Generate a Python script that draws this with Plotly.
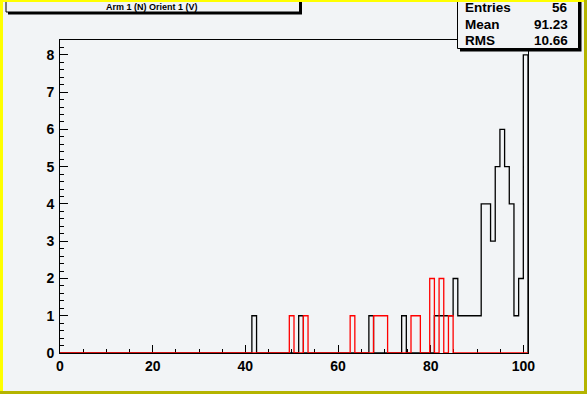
import numpy as np
import plotly.graph_objects as go

# ---------------- data ----------------
n_bins = 100
x_low, x_high = 0.0, 101.0

black_bins = [41, 51, 66, 73, 80, 81, 82, 83, 84, 85, 86, 87, 88, 89,
              90, 91, 92, 93, 94, 95, 96, 97, 98, 99]
black_counts = [1, 1, 1, 1, 1, 1, 1, 1, 2, 1, 1, 1, 1, 1,
                4, 4, 3, 5, 6, 5, 4, 1, 2, 8]

red_bins = [49, 52, 62, 67, 68, 69, 75, 76, 79, 81, 83]
red_counts = [1, 1, 1, 1, 1, 1, 1, 1, 2, 2, 1]

title_text = "Arm 1 (N) Orient 1 (V)"
stats_labels = ["Entries", "Mean", "RMS"]
stats_values = ["56", "91.23", "10.66"]

x_ticks = [0, 20, 40, 60, 80, 100]
y_ticks = [0, 1, 2, 3, 4, 5, 6, 7, 8]

# ---------------- layout geometry ----------------
W, H = 587, 394
ML, MR, MT, MB = 60, 59, 40, 41
PW, PH = W - ML - MR, H - MT - MB
BG = "#f2f4f6"
FONT = "Liberation Sans"


def px_x(px):
    return (px - ML) / PW


def px_y(py):
    return (H - MB - py) / PH


def step_xy(bins, counts):
    full = np.zeros(n_bins)
    full[np.array(bins)] = counts
    edges = np.linspace(x_low, x_high, n_bins + 1)
    xs = np.append(edges, x_high)
    ys = np.append(np.append(full, full[-1]), 0.0)
    return xs, ys


fig = go.Figure()
bx, by = step_xy(black_bins, black_counts)
fig.add_trace(go.Scatter(x=bx, y=by, mode="lines", line_shape="hv",
                         line=dict(color="black", width=1.3),
                         cliponaxis=False, hoverinfo="skip"))
rx, ry = step_xy(red_bins, red_counts)
fig.add_trace(go.Scatter(x=rx, y=ry, mode="lines", line_shape="hv",
                         line=dict(color="#ff0000", width=1.3),
                         cliponaxis=False, hoverinfo="skip"))

shapes = []
annotations = []


def rect(x0, y0, x1, y1, fill, line_color=None, lw=0):
    d = dict(type="rect", xref="paper", yref="paper",
             x0=px_x(x0), x1=px_x(x1), y0=px_y(y1), y1=px_y(y0),
             fillcolor=fill, layer="above")
    if line_color:
        d["line"] = dict(color=line_color, width=lw)
    else:
        d["line"] = dict(width=0)
    shapes.append(d)


# title box
rect(8, -4, 302, 14.5, "black")
rect(6, -4, 299.5, 12, BG, "black", 1)
annotations.append(dict(xref="paper", yref="paper", x=px_x(152), y=px_y(7.3),
                        text=title_text, showarrow=False, xanchor="center",
                        yanchor="middle",
                        font=dict(family=FONT, size=9, color="black", weight="bold")))

# stats box
rect(460, -4, 581.5, 51.5, "black")
rect(457.5, -4, 578.5, 48.5, BG, "black", 1)
row_y = [7.5, 24.3, 40.7]
for lab, val, yy in zip(stats_labels, stats_values, row_y):
    annotations.append(dict(xref="paper", yref="paper", x=px_x(463), y=px_y(yy),
                            text=lab, showarrow=False, xanchor="left", yanchor="middle",
                            font=dict(family=FONT, size=13.5, color="black", weight="bold")))
    annotations.append(dict(xref="paper", yref="paper", x=px_x(569.5), y=px_y(yy),
                            text=val, showarrow=False, xanchor="right", yanchor="middle",
                            font=dict(family=FONT, size=13.5, color="black", weight="bold")))

# canvas bevel border
rect(0, 0, 3, H, "#ffff00")
rect(0, 0, W, 2, "#ffff00")
rect(0, H - 3, W, H, "#b4b400")
rect(W - 3, 0, W, H, "#b4b400")

axis_font = dict(family=FONT, size=14, color="black", weight="bold")
fig.update_layout(
    width=W, height=H, autosize=False,
    margin=dict(l=ML, r=MR, t=MT, b=MB, pad=0),
    paper_bgcolor=BG, plot_bgcolor=BG,
    showlegend=False,
    shapes=shapes, annotations=annotations,
    xaxis=dict(range=[x_low, x_high], tickmode="array", tickvals=x_ticks,
               ticks="inside", ticklen=8, tickwidth=1, tickcolor="black",
               showline=True, linecolor="black", linewidth=1, mirror=True,
               showgrid=False, zeroline=False, tickfont=axis_font,
               layer="below traces",
               minor=dict(tick0=0, dtick=5, ticks="inside", ticklen=4,
                          tickcolor="black", tickwidth=1, showgrid=False)),
    yaxis=dict(range=[0, 8.4], tickmode="array", tickvals=y_ticks,
               ticks="inside", ticklen=8, tickwidth=1, tickcolor="black",
               showline=True, linecolor="black", linewidth=1, mirror=True,
               showgrid=False, zeroline=False, tickfont=axis_font,
               layer="below traces", ticklabelstandoff=2,
               minor=dict(tick0=0, dtick=0.2, ticks="inside", ticklen=4,
                          tickcolor="black", tickwidth=1, showgrid=False)),
)

fig.write_html(
    "out.html",
    config={"displayModeBar": False, "staticPlot": True},
    post_script="document.body.style.margin='0';document.body.style.overflow='hidden';",
)
